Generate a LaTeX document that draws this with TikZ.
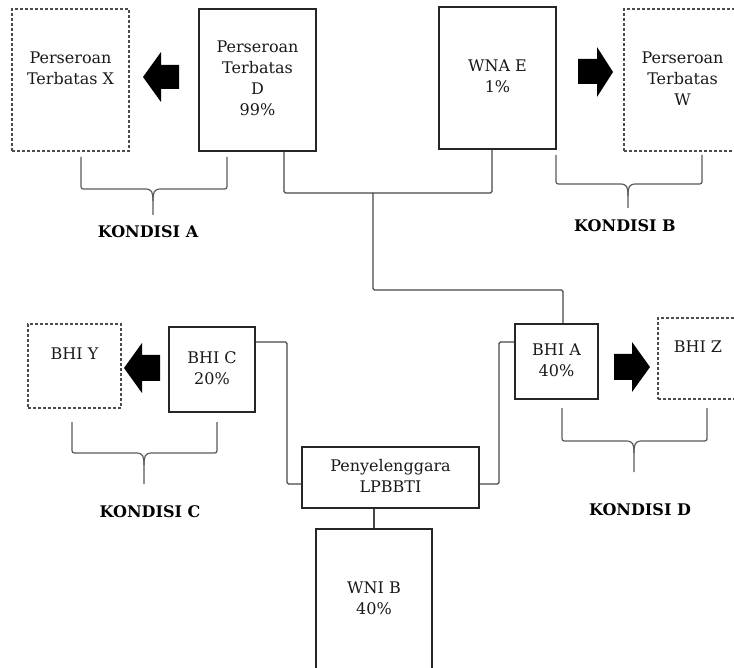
\documentclass[tikz,border=0pt]{standalone}
\usepackage{fontspec}
\setmainfont{DejaVu Serif}
\newcommand\kbrace[6]{%
  \draw[brc] (#1,#3) -- (#1,#4-5) .. controls (#1,#4) .. (#1+5,#4) -- (#5-8,#4)
     .. controls (#5-1,#4) and (#5,#4+3) .. (#5,#4+12) -- (#5,#6);
  \draw[brc] (#2,#3) -- (#2,#4-5) .. controls (#2,#4) .. (#2-5,#4) -- (#5+8,#4)
     .. controls (#5+1,#4) and (#5,#4+3) .. (#5,#4+12);
}
\begin{document}
\begin{tikzpicture}[x=1pt,y=-1pt,
  box/.style={draw=black!85, line width=1.3pt, inner sep=0pt, align=center,
    font=\fontsize{16}{21}\selectfont, text=black!90},
  dbox/.style={box, draw=black!70, dash pattern=on 3pt off 2pt},
  link/.style={draw=black!72, line width=1.1pt, rounded corners=1.5pt},
  brc/.style={draw=black!65, line width=1.2pt},
  lbl/.style={font=\fontsize{16}{20}\selectfont\bfseries, text=black}]
\useasboundingbox (0,0) rectangle (734,668);

% boxes
\node[dbox, minimum width=117pt, minimum height=142pt] (X) at (70.5,80) {\strut Perseroan\\\strut Terbatas X\\\strut};
\node[box, minimum width=117pt, minimum height=142pt] (D) at (257.5,80) {\strut Perseroan\\\strut Terbatas\\\strut D\\\strut 99\%};
\node[box, minimum width=117pt, minimum height=142pt] (E) at (497.5,78) {\strut WNA E\\\strut 1\%};
\node[dbox, minimum width=117pt, minimum height=142pt] (W) at (682.5,80) {\strut Perseroan\\\strut Terbatas\\\strut W};

\node[dbox, minimum width=93pt, minimum height=84pt] (Y) at (74.5,366) {\strut BHI Y\\\strut};
\node[box, minimum width=86pt, minimum height=85pt] (C) at (212,369.5) {\strut BHI C\\\strut 20\%};
\node[box, minimum width=83pt, minimum height=75pt] (A) at (556.5,361.5) {\strut BHI A\\\strut 40\%};
\node[dbox, minimum width=80pt, minimum height=81pt] (Z) at (698,358.5) {\strut BHI Z\\\strut};
\node[box, minimum width=177pt, minimum height=61pt] (LP) at (390.5,477.5) {\strut Penyelenggara\\\strut LPBBTI};
\node[box, minimum width=116pt, minimum height=142pt] (B) at (374,600) {\strut WNI B\\\strut 40\%};

% block arrows
\fill[black] (143,77) -- (161,52) -- (161,65) -- (179,65) -- (179,89) -- (161,89) -- (161,102) -- cycle;
\fill[black] (613,72) -- (597,47) -- (597,59) -- (578,59) -- (578,84) -- (597,84) -- (597,97) -- cycle;
\fill[black] (124,368) -- (142,343) -- (142,355) -- (160,355) -- (160,381) -- (142,381) -- (142,393) -- cycle;
\fill[black] (650,367) -- (632,342) -- (632,354) -- (614,354) -- (614,380) -- (632,380) -- (632,392) -- cycle;

% connectors
\coordinate (jt) at (373,193);
\coordinate (jb) at (373,290);
\coordinate (cC) at (287,400);
\coordinate (cA) at (499,400);
\draw[link] ([xshift=26.5pt]D.south) |- (jt) -| ([xshift=-5.5pt]E.south);
\draw[link] (jt) -- (jb) -| ([xshift=6.5pt]A.north);
\draw[link] ([yshift=27.5pt]C.east) -| (cC) |- ([yshift=-6.5pt]LP.west);
\draw[link] ([yshift=-6.5pt]LP.east) -| (cA) |- ([yshift=19.5pt]A.west);
\draw[link] (B.north) -- (B.north |- LP.south);

% braces
\kbrace{81}{227}{157}{189}{153}{215}
\kbrace{556}{702}{155}{184}{628}{208}
\kbrace{72}{217}{422}{453}{144}{484}
\kbrace{562}{707}{408}{441}{634}{472}

% labels
\node[lbl] (KA) at (148,232) {KONDISI A};
\node[lbl] (KB) at (625,226) {KONDISI B};
\node[lbl] (KC) at (150,512) {KONDISI C};
\node[lbl] (KD) at (640,510) {KONDISI D};
\end{tikzpicture}
\end{document}
